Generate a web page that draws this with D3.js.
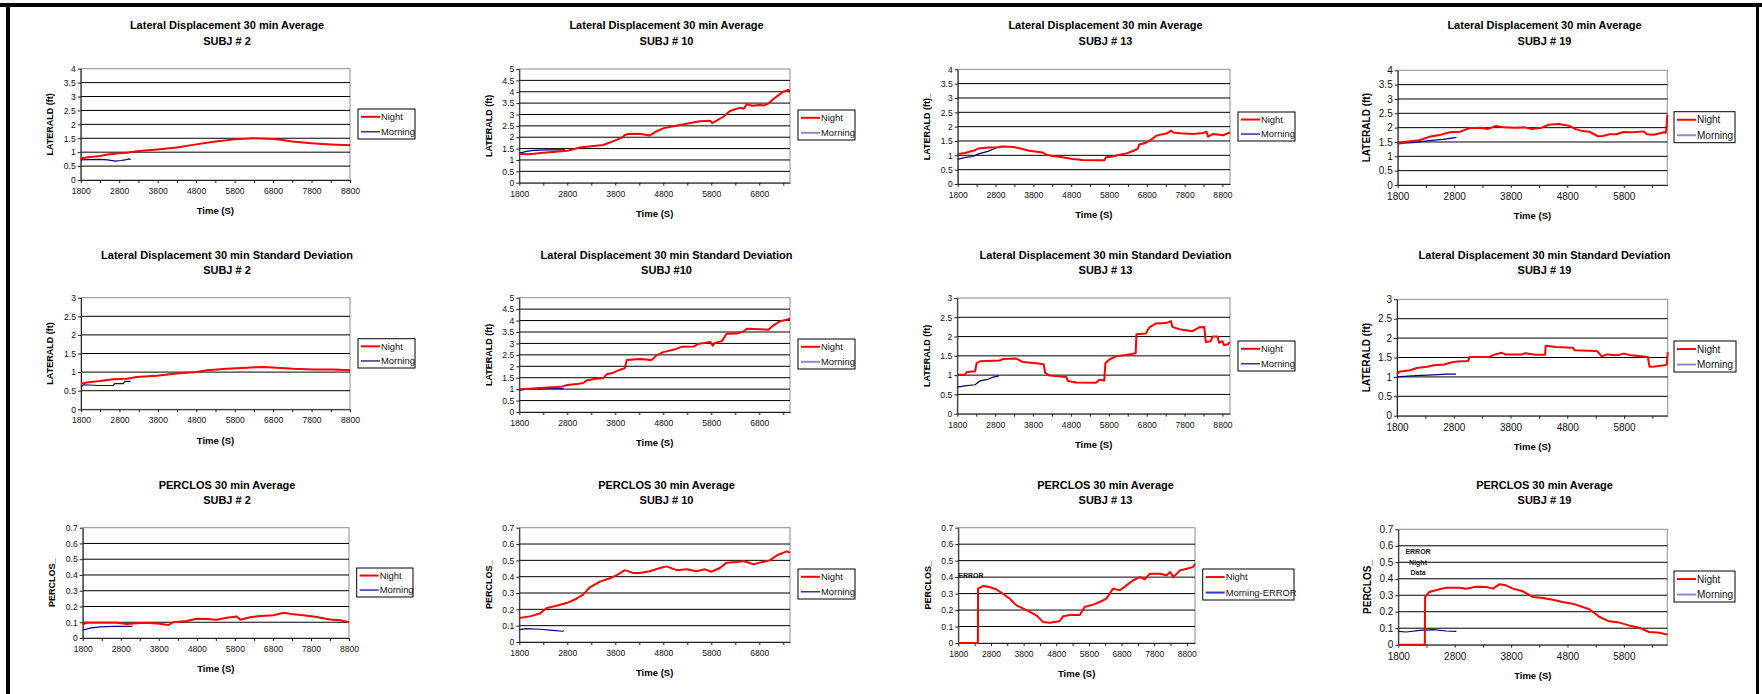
<!DOCTYPE html>
<html><head><meta charset="utf-8">
<script src="https://cdn.jsdelivr.net/npm/d3@7"></script>
<style>body{margin:0;background:#fff;} svg{display:block;} text{font-family:"Liberation Sans",Arial,sans-serif;}</style>
</head><body><svg id="c" width="1762" height="694"></svg>
<script>
// ---------- DATA ----------
const xTickLabels = [1800, 2800, 3800, 4800, 5800, 6800, 7800, 8800];
const seriesNames = ["Night", "Morning"];

const avg2Night = [[1800,0.78],[2000,0.82],[2300,0.86],[2500,0.92],[2800,0.96],[3000,0.98],[3200,1.02],[3400,1.05],[3800,1.1],[4300,1.17],[4800,1.28],[5300,1.38],[5800,1.46],[6300,1.5],[6800,1.47],[7000,1.45],[7300,1.38],[7800,1.32],[8300,1.28],[8800,1.25]];
const avg2Morning = [[1800,0.72],[2000,0.73],[2300,0.74],[2500,0.72],[2700,0.68],[2850,0.7],[2950,0.72],[3050,0.76],[3100,0.74]];

const avg10Night = [[1800,1.26],[2000,1.25],[2100,1.27],[2300,1.32],[2550,1.36],[2800,1.4],[3060,1.55],[3300,1.6],[3550,1.66],[3800,1.86],[3950,2.0],[4000,2.1],[4070,2.14],[4310,2.15],[4520,2.08],[4650,2.25],[4810,2.4],[5010,2.48],[5310,2.6],[5560,2.7],[5780,2.72],[5820,2.62],[6050,2.9],[6190,3.15],[6400,3.3],[6480,3.25],[6540,3.46],[6650,3.38],[6800,3.42],[6900,3.4],[6990,3.48],[7090,3.67],[7200,3.85],[7300,4.0],[7400,4.08],[7440,4.06]];
const avg10Morning = [[1800,1.3],[1950,1.38],[2100,1.42],[2400,1.44],[2750,1.44]];

const avg13Night = [[1800,1.05],[1995,1.08],[2150,1.14],[2260,1.18],[2350,1.24],[2610,1.27],[2880,1.28],[2970,1.31],[3280,1.29],[3510,1.22],[3690,1.16],[4040,1.1],[4170,1.01],[4310,0.98],[4570,0.93],[4840,0.87],[5100,0.84],[5370,0.83],[5680,0.83],[5720,0.93],[5900,0.96],[6080,1.02],[6250,1.06],[6430,1.15],[6560,1.22],[6600,1.38],[6780,1.44],[6910,1.54],[7050,1.68],[7190,1.73],[7320,1.76],[7450,1.86],[7500,1.8],[7680,1.77],[8030,1.74],[8290,1.78],[8380,1.82],[8420,1.65],[8550,1.74],[8820,1.7],[9000,1.8]];
const avg13Morning = [[1800,0.86],[2000,0.93],[2200,0.96],[2350,1.05],[2600,1.14],[2780,1.24],[2900,1.3]];

const avg19Night = [[1800,1.43],[1940,1.51],[2180,1.56],[2360,1.68],[2540,1.74],[2720,1.84],[2910,1.86],[3060,1.98],[3270,2.0],[3390,1.95],[3540,2.06],[3690,2.01],[3870,2.0],[4050,2.01],[4170,1.95],[4350,2.0],[4470,2.1],[4650,2.13],[4830,2.07],[4950,1.95],[5070,1.88],[5190,1.86],[5340,1.7],[5430,1.71],[5550,1.77],[5670,1.77],[5790,1.85],[5970,1.84],[6150,1.87],[6210,1.77],[6330,1.75],[6510,1.84],[6545,1.82],[6560,2.1],[6570,2.45]];
const avg19Morning = [[1800,1.45],[2060,1.48],[2360,1.55],[2600,1.59],[2840,1.66]];

const sd2Night = [[1800,0.69],[1950,0.72],[2290,0.76],[2640,0.81],[2990,0.82],[3250,0.87],[3770,0.9],[4290,0.96],[4810,1.0],[5080,1.05],[5600,1.09],[6110,1.12],[6550,1.14],[6890,1.12],[7320,1.09],[7850,1.07],[8370,1.07],[8800,1.05]];
const sd2Morning = [[1800,0.6],[1860,0.66],[2290,0.64],[2640,0.64],[2680,0.69],[2900,0.69],[2940,0.75],[3090,0.75]];

const sd10Night = [[1800,1.0],[2000,1.02],[2230,1.05],[2580,1.09],[2700,1.12],[2800,1.18],[3000,1.22],[3130,1.27],[3200,1.38],[3400,1.45],[3550,1.48],[3620,1.65],[3760,1.72],[3900,1.85],[4000,1.92],[4040,2.28],[4310,2.32],[4560,2.28],[4660,2.48],[4800,2.62],[5010,2.72],[5180,2.85],[5430,2.86],[5530,2.98],[5780,3.06],[5830,2.9],[5870,3.02],[6020,3.1],[6120,3.42],[6330,3.43],[6470,3.52],[6540,3.64],[6820,3.62],[6990,3.6],[7090,3.78],[7230,3.97],[7350,4.02],[7440,4.09]];
const sd10Morning = [[1800,0.95],[1950,1.0],[2230,1.01],[2500,1.04],[2730,1.02]];

const sd13Night = [[1800,1.01],[2000,1.01],[2050,1.08],[2270,1.1],[2310,1.31],[2400,1.36],[2920,1.38],[3010,1.42],[3360,1.43],[3530,1.34],[3880,1.31],[4080,1.28],[4120,1.06],[4240,0.99],[4680,0.95],[4720,0.85],[4940,0.81],[5460,0.8],[5550,0.88],[5680,0.86],[5710,1.31],[5810,1.4],[5990,1.49],[6250,1.52],[6510,1.57],[6530,2.06],[6780,2.08],[6870,2.24],[7050,2.34],[7310,2.35],[7440,2.4],[7480,2.25],[7660,2.19],[8010,2.14],[8190,2.24],[8320,2.25],[8360,1.86],[8490,1.88],[8540,2.0],[8670,2.0],[8710,1.84],[8800,1.88],[8840,1.78],[8950,1.8],[8990,1.86]];
const sd13Morning = [[1800,0.69],[2050,0.73],[2270,0.75],[2400,0.85],[2600,0.89],[2750,0.95],[2900,0.98]];

const sd19Night = [[1800,1.07],[1840,1.13],[2030,1.17],[2150,1.23],[2330,1.26],[2450,1.3],[2630,1.32],[2750,1.37],[2870,1.4],[3050,1.41],[3080,1.51],[3410,1.51],[3530,1.58],[3650,1.62],[3710,1.58],[4000,1.58],[4060,1.61],[4240,1.57],[4410,1.57],[4420,1.8],[4600,1.77],[4900,1.75],[4930,1.69],[5320,1.67],[5410,1.53],[5500,1.58],[5680,1.56],[5800,1.6],[5920,1.56],[6220,1.51],[6250,1.26],[6340,1.27],[6520,1.3],[6555,1.32],[6570,1.64]];
const sd19Morning = [[1800,1.0],[2000,1.02],[2230,1.04],[2530,1.06],[2650,1.07],[2840,1.07]];

const pc2Night = [[1800,0.087],[1900,0.097],[2260,0.097],[2690,0.097],[2960,0.089],[3310,0.095],[3570,0.095],[3830,0.091],[4050,0.082],[4180,0.1],[4530,0.108],[4800,0.122],[5060,0.121],[5320,0.116],[5590,0.128],[5850,0.136],[5940,0.116],[6200,0.132],[6470,0.14],[6820,0.144],[7080,0.16],[7340,0.15],[7600,0.144],[7950,0.133],[8300,0.118],[8570,0.112],[8800,0.1]];
const pc2Morning = [[1800,0.049],[1990,0.063],[2260,0.07],[2600,0.074],[2870,0.074],[3110,0.074]];

const pc10Night = [[1800,0.147],[2020,0.157],[2230,0.175],[2370,0.208],[2580,0.222],[2800,0.24],[2990,0.265],[3130,0.29],[3270,0.335],[3480,0.37],[3690,0.39],[3830,0.41],[4000,0.44],[4180,0.422],[4310,0.422],[4520,0.433],[4730,0.453],[4870,0.463],[5080,0.44],[5290,0.445],[5490,0.433],[5670,0.445],[5800,0.43],[5980,0.453],[6120,0.486],[6330,0.49],[6470,0.496],[6680,0.476],[6810,0.486],[7020,0.5],[7160,0.53],[7370,0.555],[7440,0.547]];
const pc10Morning = [[1800,0.076],[1950,0.082],[2230,0.078],[2500,0.071],[2700,0.066],[2730,0.069]];

const pc13Night = [[1800,0],[2400,0],[2405,0.33],[2550,0.346],[2750,0.34],[2960,0.326],[3160,0.3],[3370,0.27],[3570,0.23],[3780,0.21],[3980,0.19],[4190,0.168],[4390,0.128],[4600,0.123],[4900,0.132],[5010,0.162],[5210,0.17],[5520,0.17],[5670,0.219],[5930,0.233],[6130,0.249],[6340,0.27],[6540,0.33],[6750,0.32],[6950,0.35],[7160,0.381],[7360,0.4],[7510,0.387],[7670,0.421],[7970,0.421],[8180,0.411],[8290,0.431],[8390,0.4],[8590,0.441],[8800,0.451],[9000,0.462],[9050,0.482]];
const pc13Morning = [];

const pc19Night = [[1800,0],[2270,0],[2275,0.29],[2350,0.32],[2530,0.336],[2650,0.346],[2890,0.346],[3000,0.34],[3180,0.352],[3360,0.35],[3480,0.34],[3590,0.366],[3710,0.36],[3830,0.34],[4010,0.324],[4180,0.29],[4360,0.283],[4540,0.273],[4710,0.259],[4890,0.249],[5070,0.229],[5190,0.215],[5370,0.168],[5540,0.142],[5720,0.134],[5890,0.117],[6070,0.103],[6250,0.077],[6430,0.073],[6570,0.061]];
const pc19Morning = [[1800,0.081],[1940,0.077],[2180,0.087],[2420,0.091],[2650,0.083],[2830,0.081]];

// chart definitions (text + series + axis ranges)
const charts = [
  {t:"Lateral Displacement 30 min Average", s:"SUBJ # 2",  yt:"LATERALD (ft)",  ymax:4, ystep:0.5, xmax:8800, night:avg2Night,  morn:avg2Morning},
  {t:"Lateral Displacement 30 min Average", s:"SUBJ # 10", yt:"LATERALD (ft)",  ymax:5, ystep:0.5, xmax:7440, night:avg10Night, morn:avg10Morning},
  {t:"Lateral Displacement 30 min Average", s:"SUBJ # 13", yt:"LATERALD (ft)_", ymax:4, ystep:0.5, xmax:9000, night:avg13Night, morn:avg13Morning},
  {t:"Lateral Displacement 30 min Average", s:"SUBJ # 19", yt:"LATERALD (ft)",  ymax:4, ystep:0.5, xmax:6570, night:avg19Night, morn:avg19Morning},
  {t:"Lateral Displacement 30 min Standard Deviation", s:"SUBJ # 2",  yt:"LATERALD (ft)", ymax:3, ystep:0.5, xmax:8800, night:sd2Night,  morn:sd2Morning},
  {t:"Lateral Displacement 30 min Standard Deviation", s:"SUBJ #10",  yt:"LATERALD (ft)", ymax:5, ystep:0.5, xmax:7440, night:sd10Night, morn:sd10Morning},
  {t:"Lateral Displacement 30 min Standard Deviation", s:"SUBJ # 13", yt:"LATERALD (ft)", ymax:3, ystep:0.5, xmax:9000, night:sd13Night, morn:sd13Morning},
  {t:"Lateral Displacement 30 min Standard Deviation", s:"SUBJ # 19", yt:"LATERALD (ft)", ymax:3, ystep:0.5, xmax:6570, night:sd19Night, morn:sd19Morning},
  {t:"PERCLOS 30 min Average", s:"SUBJ # 2",  yt:"PERCLOS_", ymax:0.7, ystep:0.1, xmax:8800, night:pc2Night,  morn:pc2Morning},
  {t:"PERCLOS 30 min Average", s:"SUBJ # 10", yt:"PERCLOS_", ymax:0.7, ystep:0.1, xmax:7440, night:pc10Night, morn:pc10Morning},
  {t:"PERCLOS 30 min Average", s:"SUBJ # 13", yt:"PERCLOS_", ymax:0.7, ystep:0.1, xmax:9050, night:pc13Night, morn:pc13Morning, legend:["Night","Morning-ERROR"], notes:[{txt:"ERROR", x:1800, y:0.41, anchor:"start"}]},
  {t:"PERCLOS 30 min Average", s:"SUBJ # 19", yt:"PERCLOS_", ymax:0.7, ystep:0.1, xmax:6570, night:pc19Night, morn:pc19Morning, notes:[{txt:"ERROR", x:2150, y:0.565},{txt:"Night", x:2150, y:0.5},{txt:"Data", x:2150, y:0.44}]}
];

// ---------- LAYOUT (pixels) ----------
const layout = [
  {l:80.7, r:350,  t:68.7, b:180,   lx:358,  ly:109,  lw:57, lh:30},
  {l:519.3,r:790,  t:69,   b:182.7, lx:798,  ly:110,  lw:57, lh:30},
  {l:957.7,r:1230, t:69.3, b:184,   lx:1238, ly:112,  lw:57, lh:29},
  {l:1397.7,r:1667.3,t:70.3,b:185,  lx:1674, ly:111.7,lw:61, lh:31},
  {l:81,   r:350,  t:297.7,b:409.3, lx:358,  ly:338.7,lw:57, lh:29.3},
  {l:519.3,r:790,  t:297.7,b:412,   lx:798,  ly:339,  lw:57, lh:30},
  {l:957.3,r:1230, t:298,  b:413.7, lx:1238, ly:341,  lw:57, lh:30},
  {l:1397, r:1667.7,t:299.3,b:415.7,lx:1674, ly:341,  lw:62, lh:31},
  {l:82.7, r:349,  t:527.7,b:638,   lx:356.7,ly:568,  lw:56.3,lh:29},
  {l:519.3,r:790,  t:527.7,b:642,   lx:798,  ly:569,  lw:57, lh:30},
  {l:958.3,r:1195, t:527.7,b:643,   lx:1202.7,ly:569, lw:91.3,lh:31},
  {l:1398.3,r:1667.3,t:529.3,b:644.7,lx:1674,ly:571,  lw:61, lh:31}
];
const titleCX = [227, 666.5, 1105.5, 1544.5];
const titleCY = [25, 254.7, 484.7];
const fontTick = [8.6, 8.6, 8.6, 10], fontYT = [9, 9, 9, 10], fontLeg = [9.4, 9.4, 9.4, 10];
const mornLegColor = ["#000080","#8a8ad0","#000080","#8a8ad0","#000080","#8a8ad0","#000080","#8a8ad0","#000080","#000080","#3333cc","#8a8ad0"];

const svg = d3.select("#c");
// frame
svg.append("rect").attr("x",0).attr("y",3).attr("width",1762).attr("height",4).attr("fill","#000");
svg.append("rect").attr("x",6).attr("y",3).attr("width",4).attr("height",691).attr("fill","#000");
svg.append("rect").attr("x",1756).attr("y",3).attr("width",3).attr("height",691).attr("fill","#000");

charts.forEach((c, i) => {
  const L = layout[i], col = i % 4, row = Math.floor(i / 4);
  const g = svg.append("g");
  const x = d3.scaleLinear().domain([1800, c.xmax]).range([L.l, L.r]);
  const y = d3.scaleLinear().domain([0, c.ymax]).range([L.b, L.t]);
  const nY = Math.round(c.ymax / c.ystep);
  const yTicks = d3.range(0, nY + 1).map(k => +(k * c.ystep).toFixed(2));
  const xTicks = d3.range(1800, c.xmax + 1, 500);

  // titles
  g.append("text").attr("x", titleCX[col]).attr("y", titleCY[row]).attr("dy","0.36em")
    .attr("text-anchor","middle").attr("font-size",11).attr("font-weight","bold").text(c.t);
  g.append("text").attr("x", titleCX[col]).attr("y", titleCY[row] + 15.7).attr("dy","0.36em")
    .attr("text-anchor","middle").attr("font-size",11).attr("font-weight","bold").text(c.s);

  // plot area
  g.append("rect").attr("x", L.l).attr("y", L.t).attr("width", L.r - L.l).attr("height", L.b - L.t)
    .attr("fill","#fff").attr("stroke","#8c8c8c").attr("stroke-width",1);
  // gridlines
  g.selectAll(".grid").data(yTicks.filter(v => v > 0 && v < c.ymax)).join("line")
    .attr("x1", L.l).attr("x2", L.r).attr("y1", d => y(d)).attr("y2", d => y(d))
    .attr("stroke","#000").attr("stroke-width",1);

  // axes
  const ya = g.append("g").attr("transform",`translate(${L.l},0)`)
    .call(d3.axisLeft(y).tickValues(yTicks).tickSize(3).tickSizeOuter(0).tickPadding(2).tickFormat(d => String(d)));
  const xa = g.append("g").attr("transform",`translate(0,${L.b})`)
    .call(d3.axisBottom(x).tickValues(xTicks).tickSize(3).tickSizeOuter(0).tickPadding(5)
      .tickFormat(d => xTickLabels.includes(d) ? String(d) : ""));
  [ya, xa].forEach(a => {
    a.selectAll("path").attr("stroke","#222");
    a.selectAll("line").attr("stroke","#222");
    a.selectAll("text").attr("font-size", fontTick[col]).attr("fill","#111")
      .attr("font-family",'"Liberation Sans",Arial,sans-serif');
  });

  // axis titles
  g.append("text").attr("x", (L.l + L.r) / 2).attr("y", L.b + 31).attr("dy","0.36em")
    .attr("text-anchor","middle").attr("font-size",9.5).attr("font-weight","bold").text("Time (S)");
  g.append("text").attr("transform",`translate(${L.l - 31},${(L.t + L.b) / 2}) rotate(-90)`).attr("dy","0.36em")
    .attr("text-anchor","middle").attr("font-size",fontYT[col]).attr("font-weight","bold").text(c.yt);

  // series
  const line = d3.line().x(d => x(d[0])).y(d => y(d[1]));
  if (c.morn.length) g.append("path").datum(c.morn).attr("d", line).attr("fill","none")
    .attr("stroke","#000080").attr("stroke-width",1.2);
  g.append("path").datum(c.night).attr("d", line).attr("fill","none")
    .attr("stroke","#ff0000").attr("stroke-width",2).attr("stroke-linejoin","round");

  // notes
  (c.notes || []).forEach(n => {
    g.append("text").attr("x", x(n.x)).attr("y", y(n.y)).attr("dy","0.36em")
      .attr("text-anchor", n.anchor || "middle").attr("font-size",7).attr("font-weight","bold")
      .attr("fill","#222").text(n.txt);
  });

  // legend
  const names = c.legend || seriesNames;
  g.append("rect").attr("x", L.lx).attr("y", L.ly).attr("width", L.lw).attr("height", L.lh)
    .attr("fill","#fff").attr("stroke","#000").attr("stroke-width",1);
  names.forEach((nm, k) => {
    const yy = L.ly + L.lh * (k === 0 ? 0.26 : 0.76);
    g.append("line").attr("x1", L.lx + 3).attr("x2", L.lx + 22).attr("y1", yy).attr("y2", yy)
      .attr("stroke", k === 0 ? "#ff0000" : mornLegColor[i]).attr("stroke-width", k === 0 ? 2 : (mornLegColor[i] === "#000080" ? 1.2 : 2));
    g.append("text").attr("x", L.lx + 23).attr("y", yy).attr("dy","0.36em")
      .attr("font-size", fontLeg[col]).attr("fill","#111").text(nm);
  });
});
</script></body></html>
